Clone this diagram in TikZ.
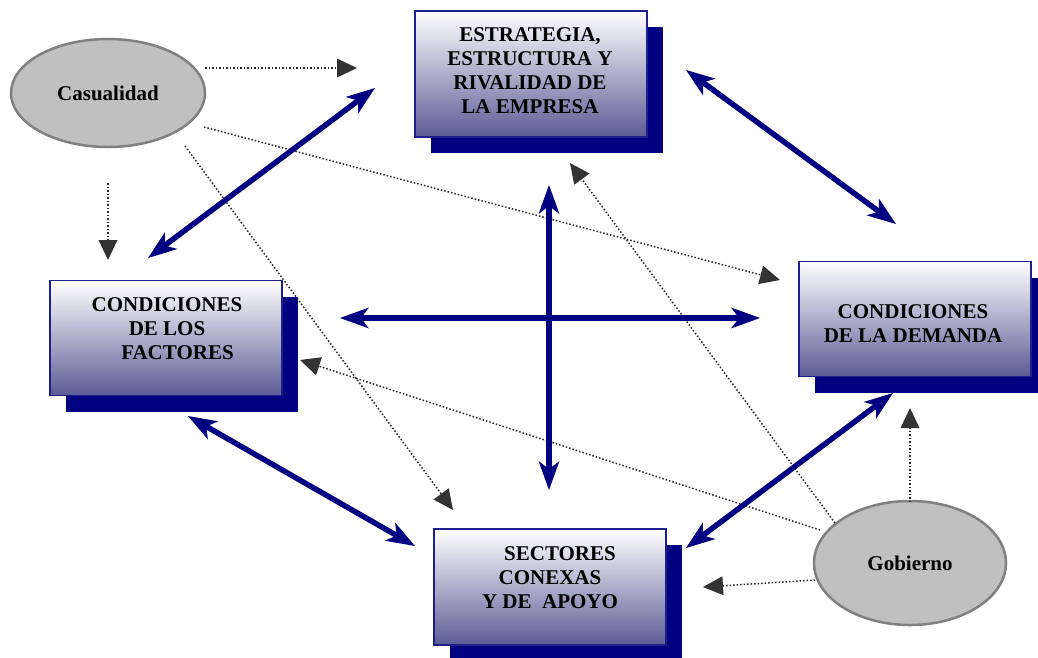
\documentclass[tikz,border=0pt]{standalone}
\usepackage{fontspec}
\setmainfont{Liberation Serif}
\usetikzlibrary{shapes.geometric,arrows.meta,shadows}
\definecolor{navyc}{RGB}{0,0,128}
\definecolor{boxbot}{RGB}{92,92,150}
\definecolor{boxedge}{RGB}{30,30,140}
\definecolor{ellfill}{RGB}{192,192,192}
\definecolor{elledge}{RGB}{128,128,128}
\definecolor{dotc}{RGB}{40,40,40}
\definecolor{tipc}{RGB}{51,51,51}
\tikzset{
  panel/.style={rectangle, inner sep=0pt, minimum width=232pt, draw=boxedge, line width=1.2pt,
    top color=white, bottom color=boxbot,
    general shadow={fill=navyc, shadow xshift=16pt, shadow yshift=-16pt}},
  btext/.style={align=center, inner sep=0pt, font=\fontsize{21}{24}\selectfont\bfseries},
  ell/.style={ellipse, fill=ellfill, draw=elledge, line width=2.5pt, inner sep=0pt,
    font=\fontsize{21}{24}\selectfont\bfseries},
  navarrow/.style={draw=navyc, line width=5.5pt,
    {Stealth[length=29pt,width=21pt,inset=8pt,line width=0pt]}-{Stealth[length=29pt,width=21pt,inset=8pt,line width=0pt]}},
  dotarrow/.style={draw=dotc, line width=1.5pt, dash pattern=on 1.5pt off 2pt,
    -{Triangle[length=20pt,width=19pt,line width=0pt,color=tipc]}}
}
\begin{document}
\begin{tikzpicture}[x=1pt,y=-1pt]
\useasboundingbox (0,0) rectangle (1038,657);
% panels
\node[panel, minimum height=126pt] (E) at (531,74) {};
\node[panel, minimum height=115pt] (F) at (166,338) {};
\node[panel, minimum height=115pt] (D) at (915,319) {};
\node[panel, minimum height=116pt] (S) at (550,587) {};
\node[btext] (Et) at (530,71) {ESTRATEGIA,\\ESTRUCTURA Y\\RIVALIDAD DE\\LA EMPRESA};
\node[btext] (Ft) at (167,329) {CONDICIONES\\DE LOS\\\hspace*{21pt}FACTORES};
\node[btext] (Dt) at (913,323.5) {CONDICIONES\\DE LA DEMANDA};
\node[btext] (St) at (550,577.5) {\hspace*{20pt}SECTORES\\CONEXAS\\Y DE\ \ APOYO};
% ellipses
\node[ell, minimum width=194pt, minimum height=108pt] (cas) at (108,93) {Casualidad};
\node[ell, minimum width=192pt, minimum height=124pt] (gob) at (910,563) {Gobierno};
% arrow tip points
\coordinate (t1) at (357,68);
\coordinate (t2) at (108,260);
\coordinate (t3) at (780,280);
\coordinate (t4) at (453,510);
\coordinate (t5) at (910,408);
\coordinate (t6) at (703,587);
\coordinate (t7) at (300,360);
\coordinate (t8) at (570,163);
% dotted arrows
\draw[dotarrow] ([shift={(97,-25)}]cas.center) -- (t1);
\draw[dotarrow] ([shift={(0,90)}]cas.center) -- (t2);
\draw[dotarrow] ([shift={(96,34)}]cas.center) -- (t3);
\draw[dotarrow] ([shift={(77,53)}]cas.center) -- (t4);
\draw[dotarrow] ([shift={(0,-61)}]gob.center) -- (t5);
\draw[dotarrow] ([shift={(-95,17)}]gob.center) -- (t6);
\draw[dotarrow] ([shift={(-90,-33)}]gob.center) -- (t7);
\draw[dotarrow] ([shift={(-75,-40)}]gob.center) -- (t8);
% navy double arrows
\draw[navarrow] ([shift={(-156,14)}]E.center) -- ([shift={(-18,-80)}]F.center);
\draw[navarrow] ([shift={(155,-4)}]E.center) -- ([shift={(-19,-95)}]D.center);
\draw[navarrow] ([shift={(18,111)}]E.center) -- ([shift={(-1,-97)}]S.center);
\draw[navarrow] ([shift={(174,-20)}]F.center) -- ([shift={(-155,-1)}]D.center);
\draw[navarrow] ([shift={(22,78)}]F.center) -- ([shift={(-135,-41)}]S.center);
\draw[navarrow] ([shift={(136,-39)}]S.center) -- ([shift={(-22,74)}]D.center);
\end{tikzpicture}
\end{document}
